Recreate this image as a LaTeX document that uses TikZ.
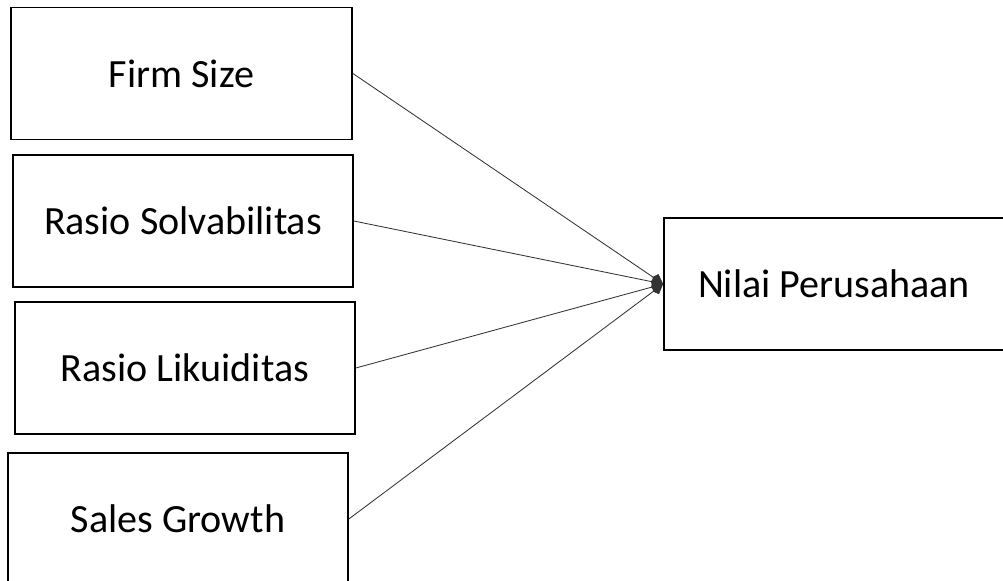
\documentclass[tikz,border=0pt]{standalone}
\usepackage{fontspec}
\setmainfont{Carlito}
\usepackage{tikz}
\usetikzlibrary{arrows.meta, positioning}
\tikzstyle{varbox} = [rectangle, minimum width=8.5cm, minimum height=3.3cm, text centered, draw=black, line width=1.1pt, font=\fontsize{28.5}{34}\selectfont]
\tikzstyle{arrow} = [-{Kite[length=9pt, width=8pt]}, draw=black!80, line width=0.6pt]

\begin{document}
\begin{tikzpicture}[x=0.025cm, y=-0.025cm]
  \useasboundingbox (0,0) rectangle (1003,580);
  \clip (0,0) rectangle (1003,580);
  %variabel
  \node (firm) [varbox, minimum width=8.53cm] at (181.5,73.5) {Firm Size};
  \node (solv) [varbox] at (183,221) {Rasio Solvabilitas};
  \node (liku) [varbox] at (185,368) {Rasio Likuiditas};
  \node (sales) [varbox] at (178,519) {Sales Growth};
  \node (nilai) [varbox] at (834,284) {Nilai Perusahaan};

  %hubungan
  \draw [arrow](firm.east) -- (nilai.west);
  \draw [arrow](solv.east) -- (nilai.west);
  \draw [arrow](liku.east) -- (nilai.west);
  \draw [arrow](sales.east) -- (nilai.west);
\end{tikzpicture}
\end{document}
